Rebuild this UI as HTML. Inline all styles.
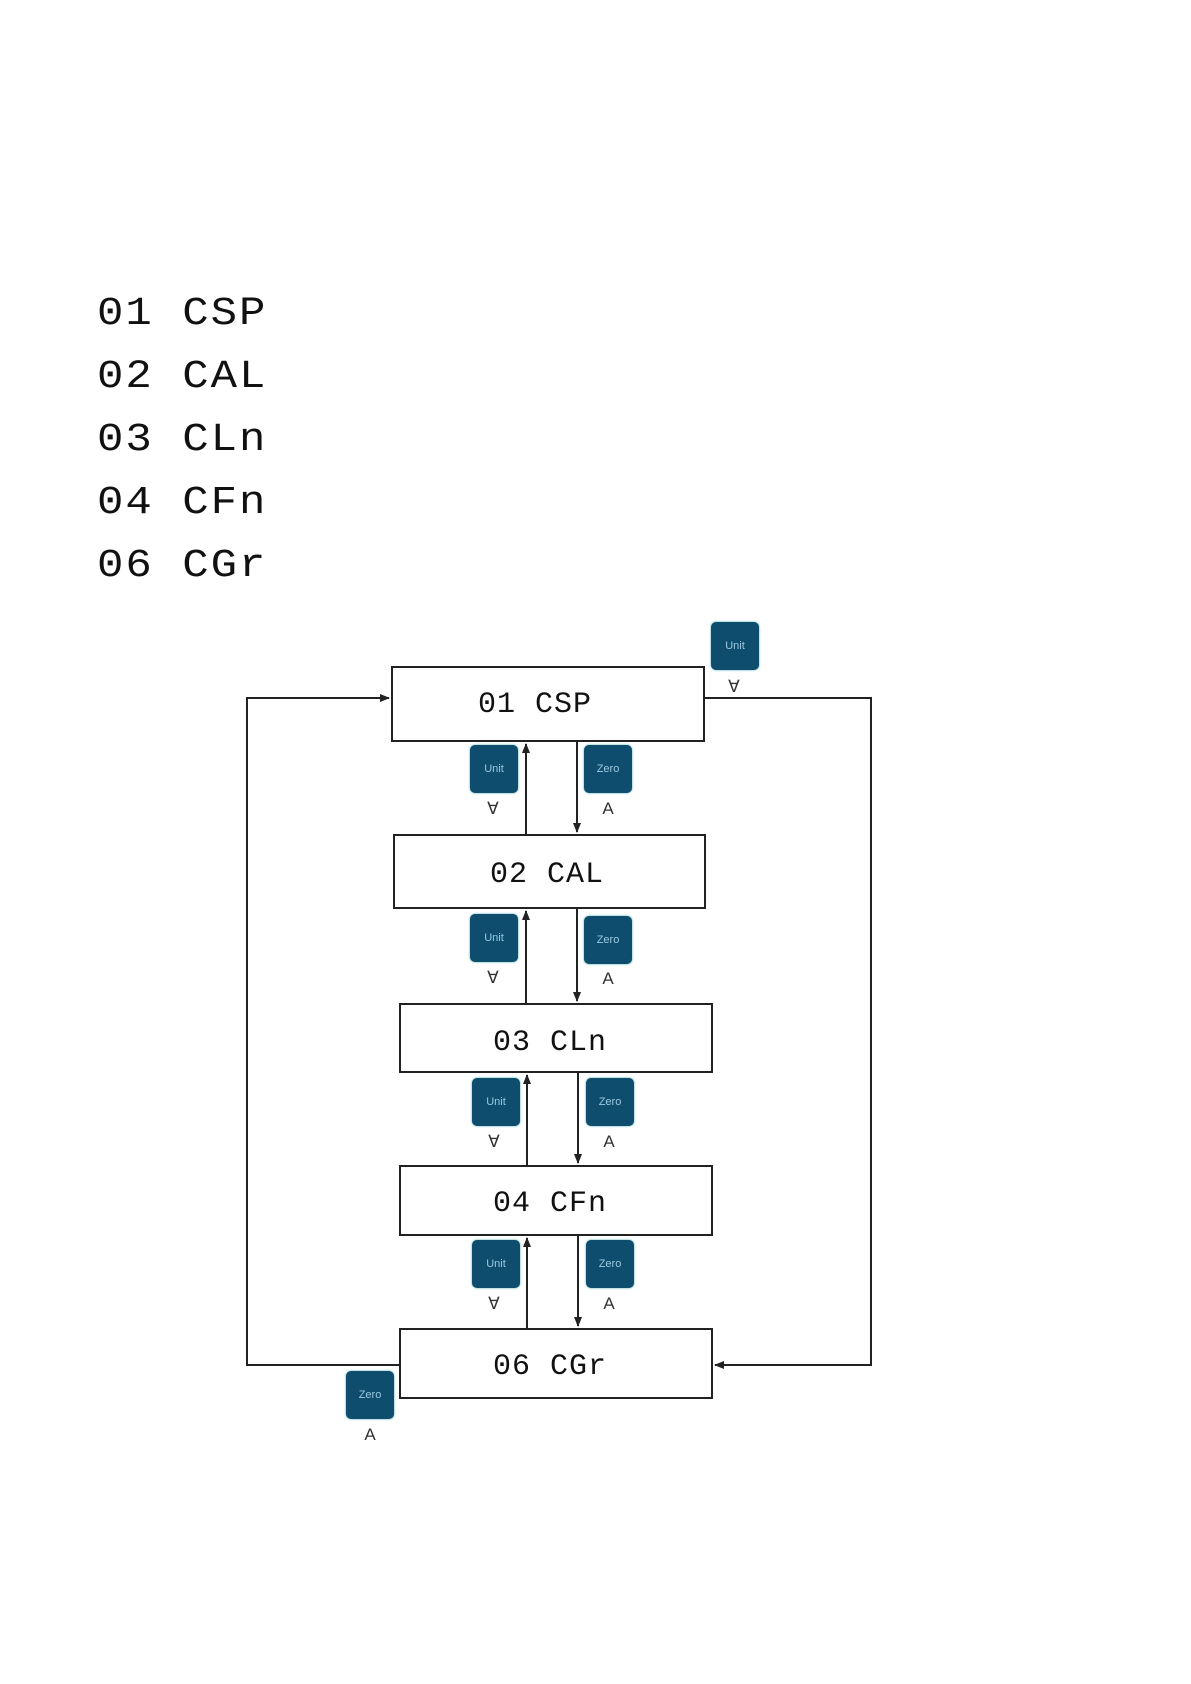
<!DOCTYPE html>
<html><head><meta charset="utf-8"><style>
body{margin:0;width:1191px;height:1684px;background:#fff;position:relative;overflow:hidden;font-family:"Liberation Sans",sans-serif}
.seg{position:absolute;font-family:"Liberation Mono",monospace;color:#111;white-space:pre;line-height:1}
.l{font-size:44px;left:97px;letter-spacing:2px;transform:scaleY(0.9)}
.b{font-size:30px;letter-spacing:1px}
.box{position:absolute;border:2px solid #222;box-sizing:border-box;background:#fff}
.btn{position:absolute;width:48px;height:48px;background:#0e4d6e;border-radius:5px;color:#9cc9e0;font-size:11px;display:flex;align-items:center;justify-content:center;box-shadow:0 0 2px #4aa}
.sym{position:absolute;font-size:17px;color:#333;width:20px;text-align:center}
</style></head><body>
<div class="seg l" style="top:292px">01 CSP</div>
<div class="seg l" style="top:355px">02 CAL</div>
<div class="seg l" style="top:418px">03 CLn</div>
<div class="seg l" style="top:481px">04 CFn</div>
<div class="seg l" style="top:544px">06 CGr</div>

<svg width="1191" height="1684" style="position:absolute;left:0;top:0">
<defs><marker id="a" markerWidth="10" markerHeight="8" refX="9" refY="4" orient="auto" markerUnits="userSpaceOnUse"><path d="M0,0L10,4L0,8z" fill="#222"/></marker></defs>
<g stroke="#222" stroke-width="2" fill="none">
<polyline points="399,1365 247,1365 247,698 389,698" marker-end="url(#a)"/>
<polyline points="705,698 871,698 871,1365 715,1365" marker-end="url(#a)"/>
<line x1="526" y1="834" x2="526" y2="744" marker-end="url(#a)"/>
<line x1="577" y1="742" x2="577" y2="832" marker-end="url(#a)"/>
<line x1="526" y1="1003" x2="526" y2="911" marker-end="url(#a)"/>
<line x1="577" y1="909" x2="577" y2="1001" marker-end="url(#a)"/>
<line x1="527" y1="1165" x2="527" y2="1075" marker-end="url(#a)"/>
<line x1="578" y1="1073" x2="578" y2="1163" marker-end="url(#a)"/>
<line x1="527" y1="1328" x2="527" y2="1238" marker-end="url(#a)"/>
<line x1="578" y1="1236" x2="578" y2="1326" marker-end="url(#a)"/>
</g></svg>

<div class="box" style="left:391px;top:666px;width:314px;height:76px"></div>
<div class="box" style="left:393px;top:834px;width:313px;height:75px"></div>
<div class="box" style="left:399px;top:1003px;width:314px;height:70px"></div>
<div class="box" style="left:399px;top:1165px;width:314px;height:71px"></div>
<div class="box" style="left:399px;top:1328px;width:314px;height:71px"></div>

<div class="seg b" style="left:478px;top:690px">01 CSP</div>
<div class="seg b" style="left:490px;top:860px">02 CAL</div>
<div class="seg b" style="left:493px;top:1028px">03 CLn</div>
<div class="seg b" style="left:493px;top:1189px">04 CFn</div>
<div class="seg b" style="left:493px;top:1352px">06 CGr</div>

<div class="btn" style="left:711px;top:622px">Unit</div><div class="sym" style="left:724px;top:677px">∀</div>
<div class="btn" style="left:470px;top:745px">Unit</div><div class="sym" style="left:483px;top:799px">∀</div>
<div class="btn" style="left:584px;top:745px">Zero</div><div class="sym" style="left:598px;top:799px">A</div>
<div class="btn" style="left:470px;top:914px">Unit</div><div class="sym" style="left:483px;top:968px">∀</div>
<div class="btn" style="left:584px;top:916px">Zero</div><div class="sym" style="left:598px;top:969px">A</div>
<div class="btn" style="left:472px;top:1078px">Unit</div><div class="sym" style="left:484px;top:1132px">∀</div>
<div class="btn" style="left:586px;top:1078px">Zero</div><div class="sym" style="left:599px;top:1132px">A</div>
<div class="btn" style="left:472px;top:1240px">Unit</div><div class="sym" style="left:484px;top:1294px">∀</div>
<div class="btn" style="left:586px;top:1240px">Zero</div><div class="sym" style="left:599px;top:1294px">A</div>
<div class="btn" style="left:346px;top:1371px">Zero</div><div class="sym" style="left:360px;top:1425px">A</div>
</body></html>
